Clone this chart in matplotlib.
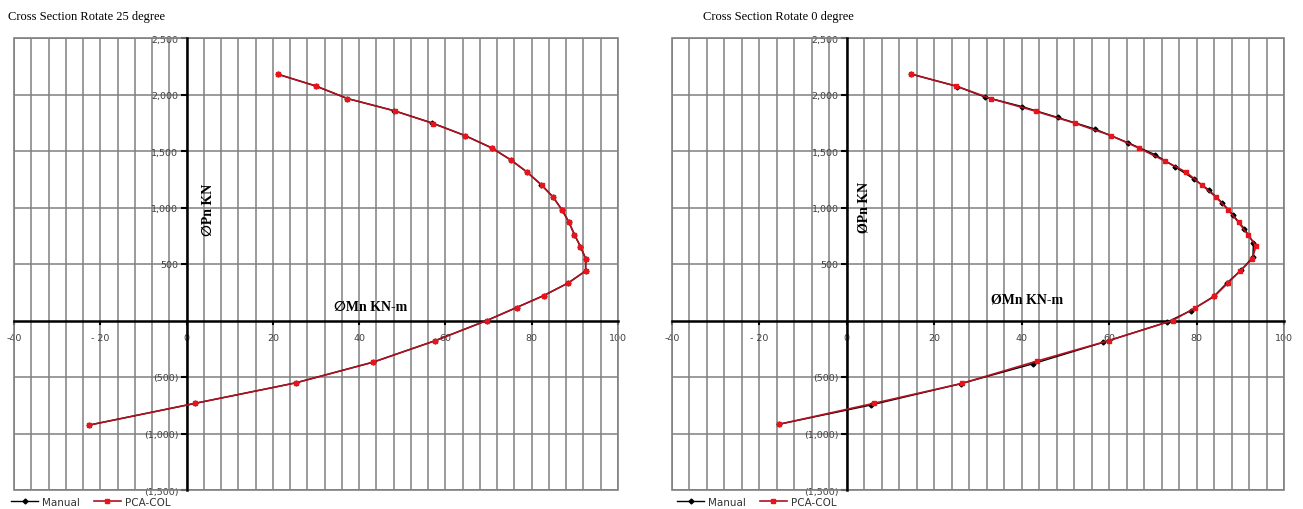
import matplotlib
matplotlib.use("Agg")
import matplotlib.pyplot as plt
from matplotlib.patches import Rectangle
from matplotlib.ticker import MultipleLocator, FixedLocator

# interaction diagram points, rotated 25 degree section
pca_25_mn = [21.1, 29.9, 37.3, 48.2, 57.2, 64.5, 70.7, 75.2, 78.9, 82.3, 84.9, 87.0, 88.6, 89.9, 91.3, 92.5, 92.5, 88.5, 82.8, 76.5, 69.6, 57.6, 43.3, 25.4, 2.0, -22.5]
pca_25_pn = [2180, 2076, 1964, 1855, 1743, 1637, 1528, 1420, 1314, 1199, 1095, 980, 872, 760, 654, 548, 439, 333, 221, 115, 0, -179, -368, -551, -733, -925]
manual_25_mn = [21.1, 29.9, 37.3, 48.0, 57.0, 64.5, 70.7, 75.1, 78.9, 82.2, 84.9, 87.0, 88.6, 89.9, 91.3, 92.5, 92.5, 88.5, 82.8, 76.5, 69.6, 57.6, 43.3, 25.4, 2.0, -22.5]
manual_25_pn = [2180, 2076, 1964, 1858, 1747, 1637, 1528, 1422, 1314, 1201, 1095, 980, 872, 760, 654, 548, 439, 333, 221, 115, 0, -179, -368, -551, -733, -925]

# interaction diagram points, rotated 0 degree section
pca_0_mn = [14.6, 24.9, 32.9, 43.2, 52.1, 60.4, 66.9, 72.7, 77.6, 81.2, 84.5, 87.2, 89.6, 91.8, 93.6, 92.7, 90.0, 87.2, 84.1, 79.7, 74.5, 60.0, 43.5, 26.3, 6.2, -15.6]
pca_0_pn = [2182, 2076, 1964, 1852, 1747, 1637, 1524, 1413, 1313, 1199, 1090, 981, 868, 757, 660, 542, 442, 333, 215, 112, 0, -177, -359, -557, -733, -919]
manual_0_mn = [14.6, 25.3, 31.7, 40.1, 48.2, 56.7, 64.2, 70.4, 75.1, 79.3, 82.8, 85.9, 88.4, 90.9, 93.0, 92.9, 90.2, 87.0, 84.0, 78.7, 73.2, 58.6, 42.6, 26.0, 5.5, -15.6]
manual_0_pn = [2182, 2070, 1976, 1893, 1797, 1695, 1575, 1469, 1360, 1254, 1155, 1040, 930, 813, 689, 563, 445, 335, 215, 88, -15, -194, -383, -560, -748, -919]

titles = ["Cross Section Rotate 25 degree", "Cross Section Rotate 0 degree"]
pn_labels = ["\u2205Pn KN", "\u00d8Pn KN"]
mn_labels = ["\u2205Mn KN-m", "\u00d8Mn KN-m"]

x_ticks = [-40, -20, 0, 20, 40, 60, 80, 100]
x_ticklabels = ["-40", "- 20", "0", "20", "40", "60", "80", "100"]
y_ticks = [-1500, -1000, -500, 500, 1000, 1500, 2000, 2500]
y_ticklabels = ["(1,500)", "(1,000)", "(500)", "500", "1,000", "1,500", "2,000", "2,500"]

W, H = 1303, 510
serif = ["Liberation Serif", "DejaVu Serif", "DejaVu Sans"]
grid_col = "#808080"


def px(x0, y0, x1, y1):
    return [x0 / W, 1 - y1 / H, (x1 - x0) / W, (y1 - y0) / H]


def drawPanel(fig, rect, mn_man, pn_man, mn_pca, pn_pca, title, title_x, pn_lab, pn_xy, mn_lab, mn_xy, leg_x):
    ax = fig.add_axes(rect)
    ax.set_xlim(-40, 100)
    ax.set_ylim(-1500, 2500)

    ax.xaxis.set_major_locator(FixedLocator(x_ticks))
    ax.set_xticklabels(x_ticklabels)
    ax.xaxis.set_minor_locator(MultipleLocator(4))
    ax.yaxis.set_major_locator(FixedLocator(y_ticks))
    ax.set_yticklabels(y_ticklabels)

    ax.grid(True, which="both", axis="x", color=grid_col, lw=1.1)
    ax.grid(True, which="major", axis="y", color=grid_col, lw=1.1)
    ax.set_axisbelow(True)

    for s in ["top", "right"]:
        ax.spines[s].set_visible(False)
    ax.spines["left"].set_position(("data", 0))
    ax.spines["bottom"].set_position(("data", 0))
    ax.spines["left"].set_linewidth(1.8)
    ax.spines["bottom"].set_linewidth(1.8)
    ax.spines["left"].set_zorder(3)
    ax.spines["bottom"].set_zorder(3)
    ax.add_patch(Rectangle((0, 0), 1, 1, transform=ax.transAxes, fill=False,
                           edgecolor=grid_col, lw=1.2, clip_on=False, zorder=1))

    ax.tick_params(axis="y", which="major", direction="out", length=4, width=1.5,
                   labelsize=6.8, labelcolor="#404040", pad=2)
    ax.tick_params(axis="x", which="major", direction="out", length=3, width=1.5,
                   labelsize=6.8, labelcolor="#404040", pad=6)
    ax.tick_params(which="minor", length=0)

    ax.plot(mn_man, pn_man, color="black", lw=1.0, marker="D", ms=2.5,
            label="Manual", zorder=4)
    ax.plot(mn_pca, pn_pca, color="#b01020", lw=1.2, marker="s", ms=3.2,
            mfc="#e8141c", mec="#e8141c", label="PCA-COL", zorder=5)

    fig.text(title_x / W, 1 - 17 / H, title, family=serif, fontsize=9,
             ha="left", va="center")
    fig.text(pn_xy[0] / W, 1 - pn_xy[1] / H, pn_lab, family=serif, fontsize=10,
             fontweight="bold", rotation=90, ha="center", va="center")
    fig.text(mn_xy[0] / W, 1 - mn_xy[1] / H, mn_lab, family=serif, fontsize=10,
             fontweight="bold", ha="center", va="center")

    ax.legend(loc="center left", bbox_to_anchor=(leg_x / W, 1 - 503 / H),
              bbox_transform=fig.transFigure, ncol=2, frameon=False,
              fontsize=7.5, handlelength=2.6, handletextpad=0.4,
              columnspacing=1.3, borderpad=0, borderaxespad=0, labelcolor="#333333")
    return ax


fig = plt.figure(figsize=(W / 100, H / 100), dpi=100)

drawPanel(fig, px(14, 39, 618, 491), manual_25_mn, manual_25_pn, pca_25_mn, pca_25_pn,
          titles[0], 8, pn_labels[0], (208, 210), mn_labels[0], (371, 307), 11)
drawPanel(fig, px(672, 39, 1284, 491), manual_0_mn, manual_0_pn, pca_0_mn, pca_0_pn,
          titles[1], 703, pn_labels[1], (864, 207), mn_labels[1], (1027, 300), 677)

fig.savefig("out.png", dpi=100)
